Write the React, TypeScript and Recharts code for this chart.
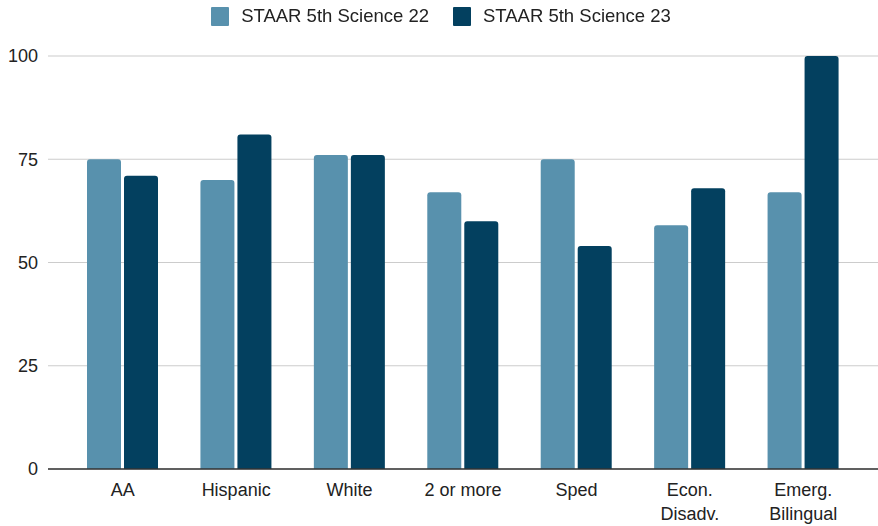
import React from "react";
import { Bar, BarChart, CartesianGrid, XAxis, YAxis } from "recharts";

// Student groups along the x axis; "\n" splits a label onto two lines.
const groups = [
  "AA",
  "Hispanic",
  "White",
  "2 or more",
  "Sped",
  "Econ.\nDisadv.",
  "Emerg.\nBilingual",
];
const science22 = [75, 70, 76, 67, 75, 59, 67];
const science23 = [71, 81, 76, 60, 54, 68, 100];
const yTicks = [0, 25, 50, 75, 100];

const SERIES = [
  { key: "s22", label: "STAAR 5th Science 22", color: "#5891ad" },
  { key: "s23", label: "STAAR 5th Science 23", color: "#03405f" },
];

const data = groups.map((g, i) => ({
  group: g,
  s22: science22[i],
  s23: science23[i],
}));

const FONT = "'Liberation Sans', Arial, sans-serif";
const TEXT = "#222222";
const FONT_SIZE = 18;

function GroupTick(props: any) {
  const { x, y, payload } = props;
  const lines = String(payload.value).split("\n");
  return (
    <text x={x} y={y + 19} textAnchor="middle" fill={TEXT} fontSize={FONT_SIZE} fontFamily={FONT}>
      {lines.map((l, i) => (
        <tspan key={i} x={x} dy={i === 0 ? 0 : 24}>
          {l}
        </tspan>
      ))}
    </text>
  );
}

// Legend lives outside the chart so it doesn't push the plot area down.
function LegendRow() {
  return (
    <div
      style={{
        position: "absolute",
        top: 6,
        left: 2,
        width: 878,
        display: "flex",
        justifyContent: "center",
        gap: 24,
        fontFamily: FONT,
        fontSize: 18.5,
        lineHeight: "20px",
        color: TEXT,
      }}
    >
      {SERIES.map((s) => (
        <div key={s.key} style={{ display: "flex", alignItems: "center", gap: 12 }}>
          <span style={{ width: 18, height: 19, background: s.color, borderRadius: 1 }} />
          <span>{s.label}</span>
        </div>
      ))}
    </div>
  );
}

export default function App() {
  return (
    <div style={{ position: "fixed", top: 0, left: 0, width: 878, height: 526, background: "#fff" }}>
      <BarChart
        width={878}
        height={526}
        data={data}
        margin={{ top: 56, right: 0, bottom: 0, left: 0 }}
        barGap={3}
        barCategoryGap={21}
      >
        <CartesianGrid vertical={false} stroke="#cccccc" strokeWidth={1.2} />
        <XAxis
          dataKey="group"
          height={57}
          padding={{ left: 18, right: 18 }}
          tickLine={false}
          axisLine={{ stroke: "#333333", strokeWidth: 1.5 }}
          tick={<GroupTick />}
          interval={0}
        />
        <YAxis
          width={48}
          domain={[0, 100]}
          ticks={yTicks}
          tickLine={false}
          axisLine={false}
          tickSize={0}
          tickMargin={10}
          tick={{ fill: TEXT, fontSize: FONT_SIZE, fontFamily: FONT }}
        />
        {SERIES.map((s) => (
          <Bar
            key={s.key}
            dataKey={s.key}
            name={s.label}
            fill={s.color}
            radius={[3, 3, 0, 0]}
            isAnimationActive={false}
          />
        ))}
      </BarChart>
      <LegendRow />
    </div>
  );
}
